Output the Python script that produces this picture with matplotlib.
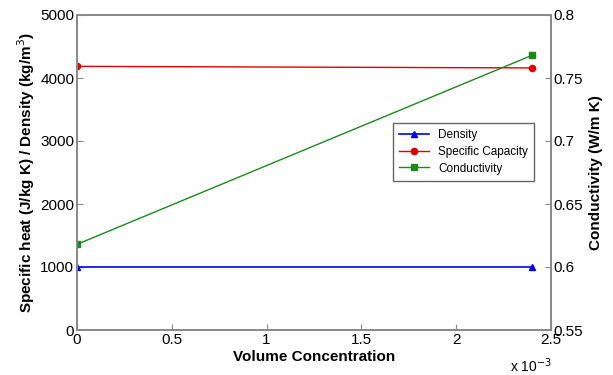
import numpy as np
import matplotlib.pyplot as plt

plt.rcParams['font.family'] = ['Liberation Sans', 'DejaVu Sans']

conc = [0.0, 0.0024]
density = [1000, 1000]
spec_cap = [4185, 4160]
conductivity = [0.618, 0.768]

fig = plt.figure(figsize=(6.13, 3.75), dpi=100)
ax = fig.add_axes([77/613, 45/375, 474/613, 315/375])
ax2 = ax.twinx()

l1, = ax.plot(conc, density, color='#0000ff', marker='^', ms=5, lw=1.2, label='Density')
l2, = ax.plot(conc, spec_cap, color='#e00000', marker='o', ms=4.5, lw=1.0, label='Specific Capacity')
l3, = ax2.plot(conc, conductivity, color='#1a8a1a', marker='s', ms=5, lw=1.0, label='Conductivity')

ax.set_xlim(0, 0.0025)
ax.set_ylim(0, 5000)
ax2.set_ylim(0.55, 0.8)
xt = [0, 0.0005, 0.001, 0.0015, 0.002, 0.0025]
ax.set_xticks(xt)
ax.set_xticklabels(['0', '0.5', '1', '1.5', '2', '2.5'])
ax.set_yticks([0, 1000, 2000, 3000, 4000, 5000])
ax2.set_yticks([0.55, 0.6, 0.65, 0.7, 0.75, 0.8])
ax2.set_yticklabels(['0.55', '0.6', '0.65', '0.7', '0.75', '0.8'])

for a in (ax, ax2):
    for s in a.spines.values():
        s.set_color('#888888')
        s.set_linewidth(1.2)
    a.tick_params(direction='in', length=4, color='#888888', labelsize=11, pad=2)

ax.set_xlabel('Volume Concentration', fontsize=11, fontweight='bold', labelpad=2)
ax.set_ylabel('Specific heat (J/kg K) / Density (kg/m$^3$)', fontsize=11, fontweight='bold', labelpad=2)
ax2.set_ylabel('Conductivity (W/m K)', fontsize=11, fontweight='bold', labelpad=4)

fig.text(510/613, 1 - 366/375, r'x 10$^{-3}$', fontsize=10, va='center')

leg = ax.legend([l1, l2, l3], ['Density', 'Specific Capacity', 'Conductivity'],
                loc='upper left', bbox_to_anchor=(0.655, 0.675), fontsize=8.5,
                fancybox=False, framealpha=1, edgecolor='#666666',
                handlelength=2.5, borderpad=0.5, labelspacing=0.4)
leg.get_frame().set_linewidth(1.0)

fig.savefig('out.png', dpi=100)
